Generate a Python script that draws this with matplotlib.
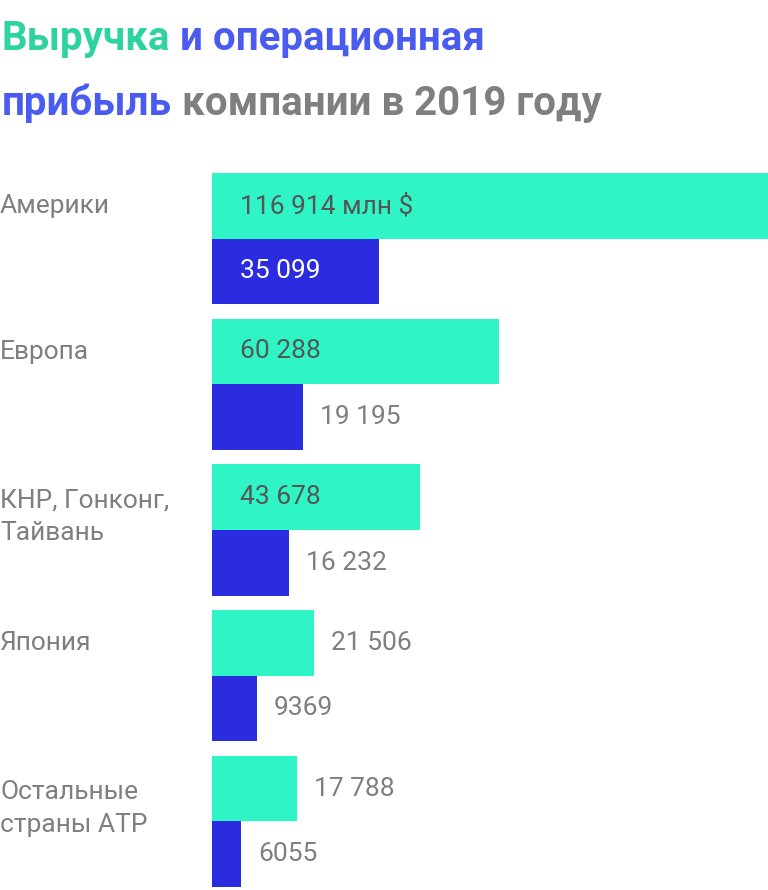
import matplotlib
matplotlib.use("Agg")
import matplotlib.pyplot as plt

plt.rcParams['font.family'] = ['Roboto', 'DejaVu Sans']

regions = ["Америки", "Европа", "КНР, Гонконг,\nТайвань", "Япония", "Остальные\nстраны АТР"]
revenue = [116914, 60288, 43678, 21506, 17788]
profit = [35099, 19195, 16232, 9369, 6055]
rev_labels = ["116 914 млн $", "60 288", "43 678", "21 506", "17 788"]
prof_labels = ["35 099", "19 195", "16 232", "9369", "6055"]

GREEN = "#2ff5c6"
BLUE = "#2b2be0"
GRAY = "#7f7f7f"
DARK = "#555555"

fig = plt.figure(figsize=(7.68, 8.9), dpi=100)
ax = fig.add_axes([212/768, 3/890, 556/768, 714/890])
h = 0.45
xmax = revenue[0]
for i in range(len(regions)):
    ax.barh(i, revenue[i], height=h, align='edge', color=GREEN)
    ax.barh(i + h, profit[i], height=h, align='edge', color=BLUE)
    off = xmax * 28 / 556
    out = xmax * 17 / 556
    if revenue[i] > 30000:
        ax.text(off, i + h/2, rev_labels[i], va='center', ha='left', fontsize=19, color=DARK)
    else:
        ax.text(revenue[i] + out, i + h/2, rev_labels[i], va='center', ha='left', fontsize=19, color=GRAY)
    if profit[i] > 30000:
        ax.text(off, i + 1.5*h, prof_labels[i], va='center', ha='left', fontsize=19, color='white')
    else:
        ax.text(profit[i] + out, i + 1.5*h, prof_labels[i], va='center', ha='left', fontsize=19, color=GRAY)
    ny = regions[i].count("\n")
    ax.text(-xmax * 212 / 556, i + h/2 + ny * 0.137, regions[i], va='center', ha='left',
            fontsize=19, color=GRAY, linespacing=1.45)

ax.set_xlim(0, xmax)
ax.set_ylim(len(regions) - 1 + 2*h, 0)
ax.axis('off')

# multicolor title
fig.canvas.draw()
r = fig.canvas.get_renderer()
lines = [[("Выручка", "#2ed3a0"), (" и операционная", "#4a5cf0")],
         [("прибыль", "#4a5cf0"), (" компании в 2019 году", GRAY)]]
ys = [1 - 50/890, 1 - 115/890]
for parts, y in zip(lines, ys):
    x = 2/768
    for s, c in parts:
        t = fig.text(x, y, s, color=c, fontsize=29, fontweight='bold', va='baseline', ha='left')
        bb = t.get_window_extent(r)
        x += bb.width / fig.bbox.width

fig.savefig("out.png", dpi=100)
